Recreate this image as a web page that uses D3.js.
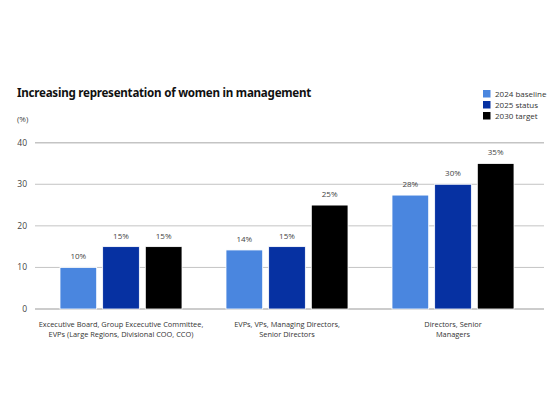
<!DOCTYPE html>
<html>
<head>
<meta charset="utf-8">
<script src="https://cdn.jsdelivr.net/npm/d3@7"></script>
<style>
  body { margin: 0; background: #fff; }
  text { font-family: "Open Sans", sans-serif; }
</style>
</head>
<body>
<div id="chart"></div>
<script>
// data
var categories = [
  ["Excecutive Board, Group Excecutive Committee,", "EVPs (Large Regions, Divisional COO, CCO)"],
  ["EVPs, VPs, Managing Directors,", "Senior Directors"],
  ["Directors, Senior", "Managers"]
];
var seriesNames = ["2024 baseline", "2025 status", "2030 target"];
var baseline2024 = [10, 14.2, 27.4];
var status2025 = [15, 15, 30];
var target2030 = [15, 25, 35];
var labels2024 = ["10%", "14%", "28%"];
var labels2025 = ["15%", "15%", "30%"];
var labels2030 = ["15%", "25%", "35%"];
var yTicks = [0, 10, 20, 30, 40];

var colors = ["#4a86df", "#0631a2", "#000000"];
var values = [baseline2024, status2025, target2030];
var valueLabels = [labels2024, labels2025, labels2030];

var width = 559, height = 420;

var svg = d3.select("#chart").append("svg")
    .attr("width", width)
    .attr("height", height);

var y = d3.scaleLinear().domain([0, 40]).range([309, 142.7]);

var x0 = d3.scaleBand()
    .domain(d3.range(categories.length))
    .range([38, 536])
    .paddingInner(0)
    .paddingOuter(0);

var x1 = d3.scaleBand()
    .domain(d3.range(seriesNames.length))
    .range([22, 144])
    .paddingInner(0.14);

// title
svg.append("text")
    .attr("x", 17)
    .attr("y", 97)
    .style("font-family", "'Noto Sans', sans-serif")
    .style("font-weight", "bold")
    .style("font-size", "11.6px")
    .style("letter-spacing", "-0.25px")
    .style("fill", "#111")
    .text("Increasing representation of women in management");

svg.append("text")
    .attr("x", 17)
    .attr("y", 122)
    .style("font-size", "8px")
    .style("fill", "#444")
    .text("(%)");

// gridlines + y labels
var grid = svg.append("g");
grid.selectAll("line")
    .data(yTicks)
    .enter().append("line")
    .attr("x1", 35)
    .attr("x2", 544)
    .attr("y1", function(d) { return y(d); })
    .attr("y2", function(d) { return y(d); })
    .attr("stroke", function(d) { return d == 0 ? "#999" : "#c4c4c4"; })
    .attr("stroke-width", function(d) { return d == 40 ? 1.5 : 1; });

grid.selectAll("text")
    .data(yTicks)
    .enter().append("text")
    .attr("x", 27)
    .attr("y", function(d) { return y(d); })
    .attr("dy", "0.35em")
    .attr("text-anchor", "end")
    .style("font-size", "8.5px")
    .style("fill", "#444")
    .text(function(d) { return d; });

// bars
var groups = svg.append("g").selectAll("g")
    .data(categories)
    .enter().append("g")
    .attr("transform", function(d, i) { return "translate(" + x0(i) + ",0)"; });

groups.selectAll("rect")
    .data(function(d, i) { return values.map(function(s, k) { return { k: k, v: s[i], l: valueLabels[k][i] }; }); })
    .enter().append("rect")
    .attr("x", function(d) { return x1(d.k); })
    .attr("width", x1.bandwidth())
    .attr("y", function(d) { return y(d.v); })
    .attr("height", function(d) { return y(0) - y(d.v); })
    .attr("fill", function(d) { return colors[d.k]; })
    .attr("stroke", "#fff")
    .attr("stroke-width", 0.8);

groups.selectAll("text.val")
    .data(function(d, i) { return values.map(function(s, k) { return { k: k, v: s[i], l: valueLabels[k][i] }; }); })
    .enter().append("text")
    .attr("class", "val")
    .attr("x", function(d) { return x1(d.k) + x1.bandwidth() / 2; })
    .attr("y", function(d) { return y(d.v) - 8; })
    .attr("text-anchor", "middle")
    .style("font-size", "8px")
    .style("fill", "#444")
    .text(function(d) { return d.l; });

// category labels
groups.each(function(d) {
    var t = d3.select(this).append("text")
        .attr("text-anchor", "middle")
        .style("font-size", "7.4px")
        .style("fill", "#333");
    d.forEach(function(line, j) {
        t.append("tspan")
            .attr("x", x0.bandwidth() / 2)
            .attr("y", 327 + j * 9.5)
            .text(line);
    });
});

// legend
var legend = svg.append("g").selectAll("g")
    .data(seriesNames)
    .enter().append("g")
    .attr("transform", function(d, i) { return "translate(483," + (94 + i * 11) + ")"; });

legend.append("rect")
    .attr("x", 0)
    .attr("y", -4)
    .attr("width", 7.5)
    .attr("height", 7.5)
    .attr("fill", function(d, i) { return colors[i]; });

legend.append("text")
    .attr("x", 12)
    .attr("y", 0)
    .attr("dy", "0.35em")
    .style("font-size", "8px")
    .style("fill", "#333")
    .text(function(d) { return d; });
</script>
</body>
</html>
